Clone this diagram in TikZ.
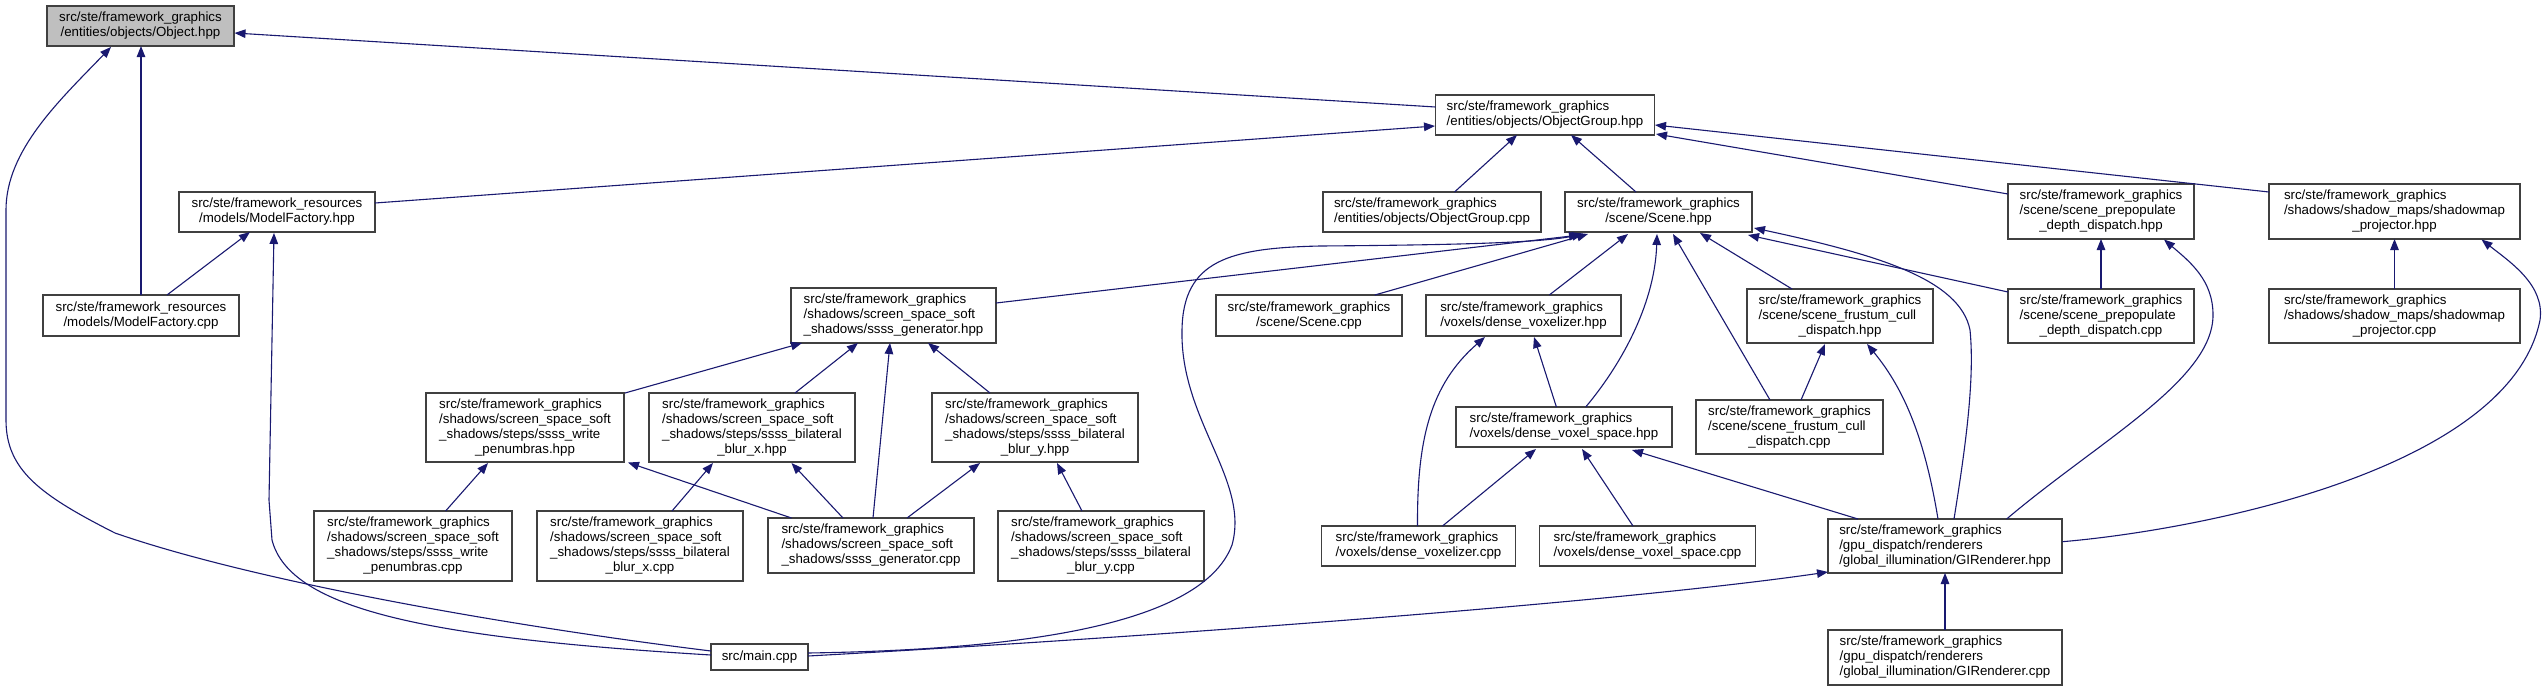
\documentclass[tikz,border=0pt]{standalone}
\usepackage{fontspec}
\setmainfont{Liberation Sans}
\usetikzlibrary{arrows.meta,calc}
\definecolor{edgeblue}{HTML}{191970}
\definecolor{boxgray}{HTML}{404040}
\definecolor{objfill}{HTML}{BFBFBF}
\newcommand{\lbl}[2]{\begin{tabular}{@{}l@{}}#1\\\multicolumn{1}{@{}c@{}}{#2}\end{tabular}}
\newcommand{\fg}{src/ste/framework\_graphics}
\newcommand{\sss}{/shadows/screen\_space\_soft}
\begin{document}
\begin{tikzpicture}[x=1pt,y=-1pt,
  box/.style={draw=boxgray, line width=1.2pt, fill=white, inner sep=0pt,
    font=\fontsize{13.3}{15}\selectfont},
  dep/.style={draw=edgeblue, line width=1.1pt, -{Triangle[length=11pt,width=8.5pt]}}]
\useasboundingbox (0,0) rectangle (2548,691);
\fill[white] (0,0) rectangle (2548,691);
% nodes
\node[box, fill=objfill, minimum width=187pt, minimum height=40pt] (obj) at (140.5,26) {\lbl{\fg}{/entities/objects/Object.hpp}};
\node[box, minimum width=219pt, minimum height=40pt] (ogh) at (1545,115) {\lbl{\fg}{/entities/objects/ObjectGroup.hpp}};
\node[box, minimum width=196pt, minimum height=40pt] (mfh) at (277,212) {\lbl{src/ste/framework\_resources}{/models/ModelFactory.hpp}};
\node[box, minimum width=218pt, minimum height=40pt] (ogc) at (1432,212) {\lbl{\fg}{/entities/objects/ObjectGroup.cpp}};
\node[box, minimum width=187pt, minimum height=40pt] (sch) at (1658.5,212) {\lbl{\fg}{/scene/Scene.hpp}};
\node[box, minimum width=186pt, minimum height=55pt] (pph) at (2101,211.5) {\lbl{\fg\\/scene/scene\_prepopulate}{\_depth\_dispatch.hpp}};
\node[box, minimum width=251pt, minimum height=55pt] (smh) at (2394.5,211.5) {\lbl{\fg\\/shadows/shadow\_maps/shadowmap}{\_projector.hpp}};
\node[box, minimum width=196pt, minimum height=41pt] (mfc) at (141,315.5) {\lbl{src/ste/framework\_resources}{/models/ModelFactory.cpp}};
\node[box, minimum width=205pt, minimum height=55pt] (sgh) at (893.5,315.5) {\lbl{\fg\\\sss}{\_shadows/ssss\_generator.hpp}};
\node[box, minimum width=186pt, minimum height=41pt] (scc) at (1309,315.5) {\lbl{\fg}{/scene/Scene.cpp}};
\node[box, minimum width=195pt, minimum height=41pt] (dvh) at (1523.5,315.5) {\lbl{\fg}{/voxels/dense\_voxelizer.hpp}};
\node[box, minimum width=186pt, minimum height=54pt] (fch) at (1840,316) {\lbl{\fg\\/scene/scene\_frustum\_cull}{\_dispatch.hpp}};
\node[box, minimum width=186pt, minimum height=54pt] (ppc) at (2101,316) {\lbl{\fg\\/scene/scene\_prepopulate}{\_depth\_dispatch.cpp}};
\node[box, minimum width=251pt, minimum height=54pt] (smc) at (2394.5,316) {\lbl{\fg\\/shadows/shadow\_maps/shadowmap}{\_projector.cpp}};
\node[box, minimum width=198pt, minimum height=69pt] (wph) at (525,427.5) {\lbl{\fg\\\sss\\\_shadows/steps/ssss\_write}{\_penumbras.hpp}};
\node[box, minimum width=206pt, minimum height=69pt] (bxh) at (752,427.5) {\lbl{\fg\\\sss\\\_shadows/steps/ssss\_bilateral}{\_blur\_x.hpp}};
\node[box, minimum width=206pt, minimum height=69pt] (byh) at (1035,427.5) {\lbl{\fg\\\sss\\\_shadows/steps/ssss\_bilateral}{\_blur\_y.hpp}};
\node[box, minimum width=216pt, minimum height=40pt] (dsh) at (1564,427) {\lbl{\fg}{/voxels/dense\_voxel\_space.hpp}};
\node[box, minimum width=187pt, minimum height=54pt] (fcc) at (1789.5,427) {\lbl{\fg\\/scene/scene\_frustum\_cull}{\_dispatch.cpp}};
\node[box, minimum width=198pt, minimum height=70pt] (wpc) at (413,546) {\lbl{\fg\\\sss\\\_shadows/steps/ssss\_write}{\_penumbras.cpp}};
\node[box, minimum width=206pt, minimum height=70pt] (bxc) at (640,546) {\lbl{\fg\\\sss\\\_shadows/steps/ssss\_bilateral}{\_blur\_x.cpp}};
\node[box, minimum width=206pt, minimum height=55pt] (sgc) at (871,545.5) {\lbl{\fg\\\sss}{\_shadows/ssss\_generator.cpp}};
\node[box, minimum width=206pt, minimum height=70pt] (byc) at (1101,546) {\lbl{\fg\\\sss\\\_shadows/steps/ssss\_bilateral}{\_blur\_y.cpp}};
\node[box, minimum width=194pt, minimum height=40pt] (dvc) at (1418.5,546) {\lbl{\fg}{/voxels/dense\_voxelizer.cpp}};
\node[box, minimum width=216pt, minimum height=40pt] (dsc) at (1647.5,546) {\lbl{\fg}{/voxels/dense\_voxel\_space.cpp}};
\node[box, minimum width=234pt, minimum height=54pt] (gih) at (1945,546) {\lbl{\fg\\/gpu\_dispatch/renderers}{/global\_illumination/GIRenderer.hpp}};
\node[box, minimum width=234pt, minimum height=55pt] (gic) at (1945,657.5) {\lbl{\fg\\/gpu\_dispatch/renderers}{/global\_illumination/GIRenderer.cpp}};
\node[box, minimum width=97pt, minimum height=26pt] (mainc) at (759.5,657) {src/main.cpp};
% edges
\draw[dep] ($(ogh)+(-109.5,-8)$) -- ($(obj)+(94,7)$);
\draw[dep] ($(mfh)+(98,-9)$) -- ($(ogh)+(-110,11)$);
\draw[dep] ($(mfc)+(0,-20.5)$) -- ($(obj)+(0.5,20)$);
\draw[dep] ($(mfc)+(26,-20.5)$) -- ($(mfh)+(-27,20)$);
\draw[dep] ($(mainc)+(-48.5,-6)$) .. controls (500,625) and (250,580) .. (115,533)
  .. controls (40,495) and (6,470) .. (6,420) -- (6,210)
  .. controls (6,150) and (60,100) .. ($(obj)+(-29.5,21)$);
\draw[dep] ($(mainc)+(-48.5,-2)$) .. controls (430,638) and (290,610) .. (272,540)
  -- (269,500) -- ($(mfh)+(-3,21)$);
\draw[dep] ($(ogc)+(22.5,-20)$) -- ($(ogh)+(-28,20)$);
\draw[dep] ($(sch)+(-22.5,-20)$) -- ($(ogh)+(26,20)$);
\draw[dep] ($(pph)+(-93,-17.5)$) -- ($(ogh)+(111,19)$);
\draw[dep] ($(smh)+(-125.5,-19.5)$) -- ($(ogh)+(110,10)$);
\draw[dep] ($(smc)+(0,-27)$) -- ($(smh)+(0,27.5)$);
\draw[dep] ($(ppc)+(0,-27)$) -- ($(pph)+(0,27.5)$);
\draw[dep] ($(ppc)+(-93,-24)$) -- ($(sch)+(89.5,23)$);
\draw[dep] ($(gih)+(61.6,-27)$) .. controls (2100,440) and (2213,380) .. (2213,315)
  .. controls (2213,280) and (2190,262) .. ($(pph)+(63,28)$);
\draw[dep] ($(gih)+(117.3,-4.3)$) .. controls (2200,530) and (2510,470) .. (2540,320)
  .. controls (2545,285) and (2510,262) .. ($(smh)+(87,28)$);
\draw[dep] ($(fch)+(-48,-27)$) -- ($(sch)+(41.5,21)$);
\draw[dep] ($(gih)+(9,-27)$) .. controls (1965,450) and (1975,380) .. (1970,330)
  .. controls (1960,280) and (1880,255) .. ($(sch)+(95.5,16)$);
\draw[dep] ($(fcc)+(-19.5,-27)$) -- ($(sch)+(14.5,22)$);
\draw[dep] ($(fcc)+(11.5,-27)$) -- ($(fch)+(-15,28)$);
\draw[dep] ($(gih)+(-7,-27)$) .. controls (1925,440) and (1905,390) .. ($(fch)+(27,28)$);
\draw[dep] ($(gic)+(0,-27.5)$) -- ($(gih)+(0,27)$);
\draw[dep] ($(gih)+(-87,-27)$) -- ($(dsh)+(68,23)$);
\draw[dep] ($(dvc)+(24,-20)$) -- ($(dsh)+(-28,22)$);
\draw[dep] ($(dsc)+(-14.5,-20)$) -- ($(dsh)+(18,22)$);
\draw[dep] ($(dvc)+(-1,-20)$) .. controls (1417,440) and (1430,385) .. ($(dvh)+(-38.5,21.5)$);
\draw[dep] ($(dsh)+(-7.6,-20)$) -- ($(dvh)+(10.5,21.5)$);
\draw[dep] ($(dsh)+(21.7,-20)$) .. controls (1625,360) and (1655,300) .. ($(sch)+(-1.5,22)$);
\draw[dep] ($(dvh)+(25.8,-20.5)$) -- ($(sch)+(-30.5,22)$);
\draw[dep] ($(scc)+(65.8,-20.5)$) -- ($(sch)+(-70.5,22)$);
\draw[dep] ($(sgh)+(102.5,-12.5)$) -- ($(sch)+(-78.5,23)$);
\draw[dep] ($(mainc)+(48.5,-4)$) .. controls (1000,650) and (1200,630) .. (1232,545)
  .. controls (1250,480) and (1180,420) .. (1182,330)
  .. controls (1183,260) and (1230,248) .. (1320,246)
  .. controls (1450,245) and (1540,243) .. ($(sch)+(-75.5,22)$);
\draw[dep] ($(mainc)+(48.5,-1)$) .. controls (1100,640) and (1600,605) .. ($(gih)+(-117,26)$);
\draw[dep] ($(wph)+(100,-34.5)$) -- ($(sgh)+(-91.5,27.5)$);
\draw[dep] ($(bxh)+(43,-34.5)$) -- ($(sgh)+(-35.5,27.5)$);
\draw[dep] ($(sgc)+(2,-27.5)$) -- ($(sgh)+(-3.5,27.5)$);
\draw[dep] ($(byh)+(-45,-34.5)$) -- ($(sgh)+(34.5,27.5)$);
\draw[dep] ($(wpc)+(32.6,-35)$) -- ($(wph)+(-37,35.5)$);
\draw[dep] ($(sgc)+(-79.5,-27.5)$) -- ($(wph)+(103,35)$);
\draw[dep] ($(bxc)+(32,-35)$) -- ($(bxh)+(-39,35.5)$);
\draw[dep] ($(sgc)+(-28,-27.5)$) -- ($(bxh)+(39.5,35.5)$);
\draw[dep] ($(sgc)+(36,-27.5)$) -- ($(byh)+(-55,35.5)$);
\draw[dep] ($(byc)+(-19,-35)$) -- ($(byh)+(22,35.5)$);
\end{tikzpicture}
\end{document}
